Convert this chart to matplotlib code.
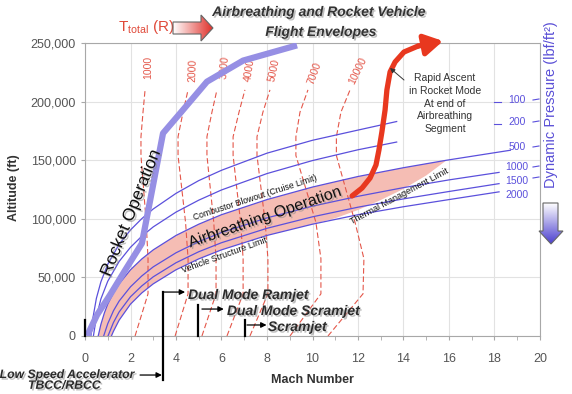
import numpy as np
import matplotlib
matplotlib.use("Agg")
import matplotlib.pyplot as plt
import matplotlib.patheffects as pe
from matplotlib.patches import Polygon
from matplotlib.colors import LinearSegmentedColormap
from matplotlib.ticker import MultipleLocator, FuncFormatter

plt.rcParams['font.family'] = ['Liberation Sans', 'DejaVu Sans']
plt.rcParams['mathtext.fontset'] = 'custom'
plt.rcParams['mathtext.rm'] = 'Liberation Sans'

# ---- data (altitude in thousands of ft) ----
# constant dynamic pressure lines, lbf/ft^2
q100_mach = [0.26, 0.35, 0.5, 0.7, 1.0, 1.5, 2.0, 2.5, 3.0, 4.0, 5.0, 6.0, 8.0, 10.0, 12.0, 13.7]
q100_alt = [0, 15.6, 32.1, 46.3, 61.2, 78.2, 90.5, 100.2, 108.4, 121.7, 132.6, 141.4, 156.0, 167.0, 175.7, 183.0]
q200_mach = [0.37, 0.5, 0.7, 1.0, 1.5, 2.0, 2.5, 3.0, 4.0, 5.0, 6.0, 8.0, 10.0, 12.0, 13.7]
q200_alt = [0, 16.1, 31.7, 46.7, 63.6, 75.7, 85.2, 93.1, 105.7, 115.9, 124.6, 138.6, 149.7, 158.9, 165.5]
q500_mach = [0.58, 0.7, 0.85, 1.0, 1.25, 1.5, 2.0, 2.5, 3.0, 4.0, 5.0, 6.0, 8.0, 10.0, 12.0, 14.0, 15.9, 18.7]
q500_alt = [0, 10.0, 19.6, 27.2, 36.8, 44.5, 56.5, 65.8, 73.5, 85.8, 95.4, 103.5, 116.4, 127.1, 136.1, 143.6, 150.0, 158.5]
q1000_mach = [0.82, 1.0, 1.25, 1.5, 2.0, 2.5, 3.0, 4.0, 5.0, 6.0, 8.0, 10.0, 12.0, 14.0, 16.0, 18.2]
q1000_alt = [0, 10.5, 21.5, 29.8, 42.0, 51.3, 59.0, 71.0, 80.5, 88.3, 100.8, 110.8, 119.2, 126.6, 133.2, 139.6]
q1500_mach = [1.01, 1.25, 1.5, 2.0, 2.5, 3.0, 4.0, 5.0, 6.0, 8.0, 10.0, 12.0, 14.0, 16.0, 18.2]
q1500_alt = [0, 11.5, 20.5, 33.5, 42.8, 50.5, 62.5, 71.9, 79.6, 91.9, 101.7, 109.9, 117.0, 123.3, 130.0]
q2000_mach = [1.16, 1.25, 1.5, 2.0, 2.5, 3.0, 4.0, 5.0, 6.0, 8.0, 10.0, 12.0, 14.0, 16.0, 18.2]
q2000_alt = [0, 4.0, 13.5, 27.2, 36.8, 44.5, 56.5, 65.8, 73.5, 85.8, 95.4, 103.5, 110.3, 116.4, 123.0]
q_labels = ['100', '200', '500', '1000', '1500', '2000']

# airbreathing corridor lower edge (upper edge follows q = 500)
band_low_mach = [1.16, 1.25, 1.5, 2.0, 2.5, 3.0, 4.0, 5.0, 6.0, 8.0, 10.0, 11.0, 12.0, 13.0, 14.0, 15.0, 15.9]
band_low_alt = [0, 4.0, 13.5, 27.2, 36.8, 44.5, 56.5, 65.8, 73.5, 85.8, 95.4, 100.5, 107.5, 116.0, 125.5, 137.0, 150.0]

# total temperature lines (R)
tt_labels = ['1000', '2000', '3000', '4000', '5000', '7000', '10000']
tt_alt = [0, 36, 66, 97, 154, 170, 191, 210]
tt1000_mach = [2.20, 2.77, 2.77, 2.69, 2.46, 2.46, 2.55, 2.64]
tt2000_mach = [3.96, 4.53, 4.53, 4.42, 4.09, 4.09, 4.31, 4.53]
tt3000_mach = [5.14, 5.76, 5.76, 5.66, 5.36, 5.36, 5.58, 5.80]
tt4000_mach = [6.24, 6.95, 6.95, 6.84, 6.51, 6.51, 6.77, 7.03]
tt5000_mach = [7.25, 8.04, 8.04, 7.92, 7.56, 7.56, 7.82, 8.13]
tt7000_mach = [9.01, 10.37, 10.37, 10.15, 9.27, 9.27, 9.45, 9.80]
tt10000_mach = [10.68, 12.22, 12.26, 11.87, 11.05, 11.05, 11.25, 11.65]

# rocket operation trajectory
rocket_mach = [0.09, 0.53, 1.10, 1.76, 2.50, 3.43, 4.18, 5.36, 6.95, 9.32]
rocket_alt = [0, 18, 35, 56, 79, 173, 190, 217, 235, 248]

# rapid ascent at end of airbreathing segment
ascent_mach = [11.74, 12.18, 12.53, 12.79, 12.92, 13.05, 13.19, 13.27, 13.41, 13.63, 14.02, 14.64, 15.74]
ascent_alt = [119.5, 126.3, 134.8, 145.9, 158.7, 174.1, 192.8, 209.9, 225.3, 233.8, 242.3, 247.4, 251.7]

# propulsion mode start Mach numbers
mode_names = ['Low Speed Accelerator', 'Dual Mode Ramjet', 'Dual Mode Scramjet', 'Scramjet']
mode_mach = [0.0, 3.45, 4.97, 7.03]

# ---- figure ----
W, H = 572, 394
fig = plt.figure(figsize=(W / 100, H / 100), dpi=100)
ax = fig.add_axes([85 / W, 1 - 336 / H, 455 / W, 293 / H])
ax.set_xlim(0, 20)
ax.set_ylim(0, 250000)

BLUE = '#5b50dc'
RED = '#e4574a'
DARK = '#2b2b2b'
shadow = [pe.withSimplePatchShadow(offset=(1.2, -1.2), shadow_rgbFace='#8a8a8a', alpha=0.55)]

# corridor
px = np.r_[q500_mach[:-1], band_low_mach[::-1]]
py = np.r_[q500_alt[:-1], band_low_alt[::-1]] * 1000
ax.fill(px, py, color='#f5bdb4', lw=0, zorder=1)

# total temperature lines
tt_mach = [tt1000_mach, tt2000_mach, tt3000_mach, tt4000_mach, tt5000_mach, tt7000_mach, tt10000_mach]
lab_pos = [(2.77, 229.5, 90), (4.75, 227, 88), (6.15, 229.5, 85), (7.25, 227, 81),
           (8.31, 227, 78), (10.07, 224.4, 70), (12.0, 226, 64)]
for m, lab, (lx, la, rot) in zip(tt_mach, tt_labels, lab_pos):
    ax.plot(m, np.array(tt_alt) * 1000, color=RED, lw=0.8, ls=(0, (5, 2.5)), zorder=2)
    ax.text(lx, la * 1000, lab, rotation=rot, color=RED, fontsize=7.5,
            ha='center', va='center', rotation_mode='anchor', zorder=2)

# dynamic pressure lines
q_lines = [(q100_mach, q100_alt), (q200_mach, q200_alt), (q500_mach, q500_alt),
           (q1000_mach, q1000_alt), (q1500_mach, q1500_alt), (q2000_mach, q2000_alt)]
for m, a in q_lines:
    ax.plot(m, np.array(a) * 1000, color=BLUE, lw=0.9, zorder=3)

# rocket trajectory
ax.plot(rocket_mach, np.array(rocket_alt) * 1000, color='#968fe4', lw=4.5,
        solid_joinstyle='round', solid_capstyle='butt', zorder=4)

# rapid ascent arrow
ax.plot(ascent_mach[:-1], np.array(ascent_alt[:-1]) * 1000, color='#e8381f', lw=3.8,
        solid_capstyle='round', solid_joinstyle='round', zorder=6, clip_on=False)
ax.annotate('', xy=(ascent_mach[-1], ascent_alt[-1] * 1000),
            xytext=(ascent_mach[-2], ascent_alt[-2] * 1000),
            arrowprops=dict(arrowstyle='-|>,head_length=0.55,head_width=0.32', color='#e8381f',
                            lw=3.8, mutation_scale=20, shrinkA=0, shrinkB=0),
            annotation_clip=False, zorder=6)

# region labels
ax.text(7.91, 101500, 'Airbreathing Operation', rotation=19, fontsize=11.5, color='#111',
        ha='center', va='center', rotation_mode='anchor', zorder=7, path_effects=shadow)
ax.text(7.47, 117700, 'Combustor Blowout (Cruise Limit)', rotation=18, fontsize=6.2, color='#111',
        ha='center', va='center', rotation_mode='anchor', zorder=7)
ax.text(6.15, 69100, 'Vehicle Structure Limit', rotation=20, fontsize=6.5, color='#111',
        ha='center', va='center', rotation_mode='anchor', zorder=7)
ax.text(13.8, 119500, 'Thermal Management Limit', rotation=28, fontsize=6.5, color='#111',
        ha='center', va='center', rotation_mode='anchor', zorder=7)
ax.text(2.02, 105000, 'Rocket Operation', rotation=68, fontsize=12.5, color='#111',
        ha='center', va='center', rotation_mode='anchor', zorder=7, path_effects=shadow)

# propulsion mode markers
bar_ext = [(0, 13.7), (-37.5, 37.5), (0, 26.5), (0, 13.7)]
for m, (a0, a1) in zip(mode_mach, bar_ext):
    ax.plot([m, m], [a0 * 1000, a1 * 1000], color='k', lw=1.6, clip_on=False, zorder=8)
arr_kw = dict(arrowstyle='-|>', color='k', lw=0.9, mutation_scale=8, shrinkA=0, shrinkB=0)
for (x0, x1, a) in [(3.45, 4.4, 37.5), (5.14, 6.1, 23.0), (7.12, 7.98, 9.4), (2.42, 3.38, -33.3)]:
    ax.annotate('', xy=(x1, a * 1000), xytext=(x0, a * 1000), arrowprops=arr_kw,
                annotation_clip=False, zorder=8)
bkw = dict(fontsize=10, fontweight='bold', fontstyle='italic', color=DARK, va='center',
           path_effects=shadow, zorder=8, clip_on=False)
ax.text(4.53, 35000, mode_names[1], ha='left', **bkw)
ax.text(6.24, 21300, mode_names[2], ha='left', **bkw)
ax.text(8.04, 7700, mode_names[3], ha='left', **bkw)
bkw['fontsize'] = 8.8
ax.text(2.2, -33300, mode_names[0], ha='right', **bkw)
ax.text(-0.9, -42500, 'TBCC/RBCC', ha='center', **bkw)

# axes styling
ax.xaxis.set_major_locator(MultipleLocator(2))
ax.xaxis.set_minor_locator(MultipleLocator(1))
ax.yaxis.set_major_locator(MultipleLocator(50000))
ax.yaxis.set_major_formatter(FuncFormatter(lambda v, p: f'{int(v):,}'))
ax.grid(True, which='major', color='#e2e2e2', lw=0.8, zorder=0)
ax.set_axisbelow(True)
for s in ax.spines.values():
    s.set_color('#a8a8a8')
ax.tick_params(axis='both', which='both', colors='#a8a8a8', labelcolor='#555555', labelsize=9, length=3)
ax.tick_params(axis='x', pad=9)
ax.tick_params(axis='y', pad=3.5)

# ---- overlay in pixel coordinates for decorations ----
ov = fig.add_axes([0, 0, 1, 1])
ov.set_xlim(0, W)
ov.set_ylim(H, 0)
ov.axis('off')
ov.patch.set_alpha(0)


def grad_arrow(verts, c0, c1, extent, vertical):
    poly = Polygon(verts, closed=True, fc='none', ec='#666666', lw=0.8, zorder=3)
    ov.add_patch(poly)
    g = np.linspace(0, 1, 128)
    g = g[:, None] if vertical else g[None, :]
    cmap = LinearSegmentedColormap.from_list('g', [c0, c1])
    im = ov.imshow(g, extent=extent, cmap=cmap, aspect='auto', zorder=2)
    im.set_clip_path(poly)


tkw = dict(fontsize=10, fontweight='bold', fontstyle='italic', color='#333333',
           ha='center', va='center', path_effects=shadow)
ov.text(319, 12, 'Airbreathing and Rocket Vehicle', **tkw)
ov.text(321, 32, 'Flight Envelopes', **tkw)

ov.text(146, 27, r'T$_{\mathrm{total}}$ (R)', fontsize=11, color='#e04a3a', ha='center', va='center')
grad_arrow([(173, 22), (201, 22), (201, 15), (213, 28), (201, 41), (201, 34), (173, 34)],
           'white', '#e0302a', (173, 213, 41, 15), False)

ov.text(551, 105, 'Dynamic Pressure (lbf/ft²)', rotation=90, fontsize=10.5, color='#5a4fd6',
        ha='center', va='center')
grad_arrow([(543, 203), (558, 203), (558, 231), (563, 231), (551, 244), (539, 231), (543, 231)],
           'white', '#4b3fcf', (539, 563, 244, 203), True)

for lab, y in zip(q_labels, [100, 122, 147, 167, 181, 195]):
    ov.text(517, y, lab, fontsize=7.5, color=BLUE, ha='center', va='center')
for y in [100, 122]:
    ov.plot([494, 501], [y + 2, y + 2], color=BLUE, lw=0.8)
for y in [100, 122, 147, 167, 178]:
    ov.plot([533, 539], [y, y - 1], color=BLUE, lw=0.8)

ov.text(445, 103.5, 'Rapid Ascent\nin Rocket Mode\nAt end of\nAirbreathing\nSegment',
        fontsize=7.5, color='#333333', ha='center', va='center', linespacing=1.35)
ov.annotate('', xy=(390, 68), xytext=(404, 80),
            arrowprops=dict(arrowstyle='-|>', color='#333333', lw=0.7, mutation_scale=7,
                            shrinkA=0, shrinkB=0))

ov.text(14, 188, 'Altitude (ft)', rotation=90, fontsize=9, fontweight='bold', color='#333333',
        ha='center', va='center')
ov.text(312, 380, 'Mach Number', fontsize=9, fontweight='bold', color='#333333',
        ha='center', va='center')

ov.set_xlim(0, W)
ov.set_ylim(H, 0)

fig.savefig('out.png', dpi=100)
